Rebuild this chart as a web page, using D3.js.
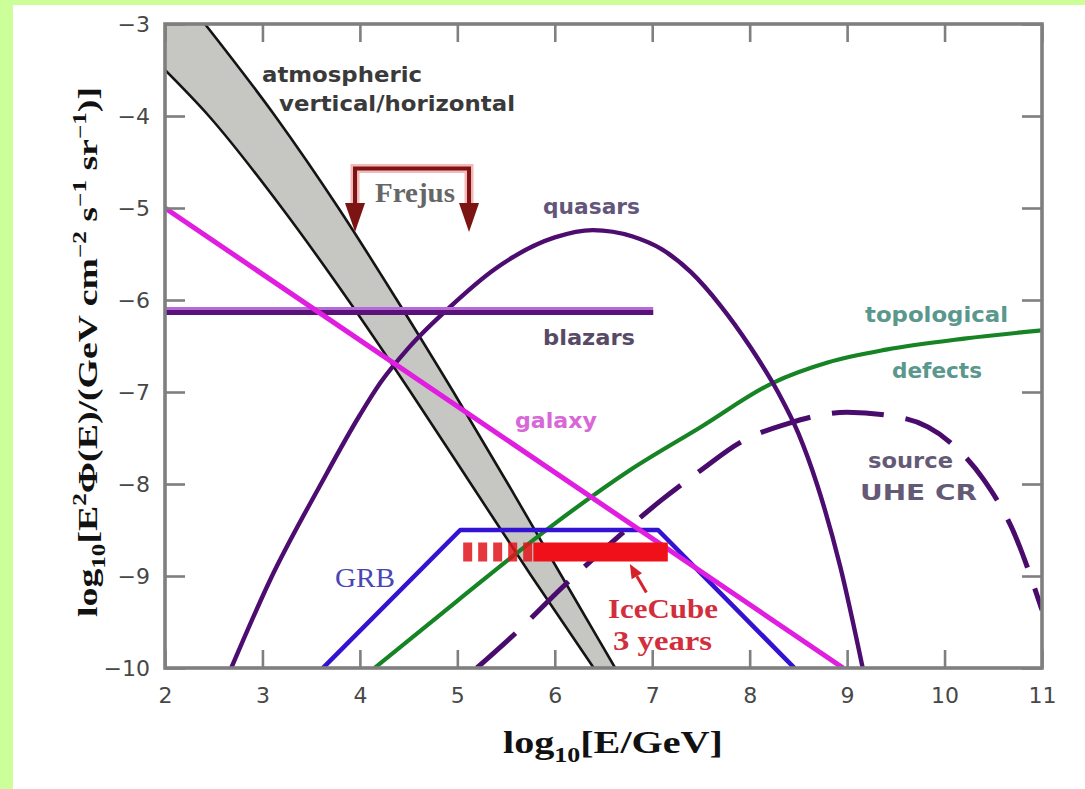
<!DOCTYPE html>
<html>
<head>
<meta charset="utf-8">
<script src="https://cdn.jsdelivr.net/npm/d3@7"></script>
<style>
  html, body { margin: 0; padding: 0; background: #fff; }
  svg { display: block; }
</style>
</head>
<body>
<svg id="chart" width="1085" height="789"></svg>
<script>
// ---- axis ticks ----
const energyTicks = [2, 3, 4, 5, 6, 7, 8, 9, 10, 11];
const fluxTicks = [-3, -4, -5, -6, -7, -8, -9, -10];

// ---- neutrino flux models: [log10(E/GeV), log10(E^2 Phi)] ----
const atmosphericUpper = [[2.41, -3], [3.13, -4], [3.78, -5], [4.38, -6], [4.96, -7], [5.52, -8], [6.07, -9], [6.62, -10]];
const atmosphericLower = [[2.0, -3.5], [2.45, -4], [3.2, -5], [3.88, -6], [4.52, -7], [5.14, -8], [5.76, -9], [6.4, -10]];

const quasars = [[2.68, -10], [3.08, -9.04], [3.6, -8.0], [4.0, -7.25], [4.21, -6.9], [4.5, -6.52], [4.92, -6.08],
  [5.39, -5.66], [6.0, -5.32], [6.39, -5.24], [6.8, -5.31], [7.1, -5.45], [7.4, -5.7], [7.7, -6.06], [8.0, -6.5],
  [8.29, -7.0], [8.5, -7.45], [8.69, -8.0], [8.93, -8.9], [9.16, -10]];

const blazarsRange = [2.0, 7.01];
const blazarsLevel = -6.12;

const galaxy = [[2.0, -5.0], [8.96, -10.0]];

const grb = [[3.62, -10], [5.03, -8.5], [7.06, -8.5], [8.46, -10]];

const topologicalDefects = [[4.15, -10], [5.0, -9.27], [6.0, -8.43], [6.77, -7.85], [7.5, -7.38], [8.24, -6.9],
  [8.8, -6.68], [9.4, -6.54], [10.2, -6.42], [11.0, -6.33]];

const sourceUHECR = [[5.2, -10], [5.6, -9.62], [6.1, -9.1], [6.6, -8.62], [7.1, -8.17], [7.5, -7.85], [7.9, -7.55],
  [8.4, -7.34], [9.0, -7.22], [9.6, -7.29], [10.06, -7.55], [10.4, -7.95], [10.7, -8.5], [11.0, -9.37]];

// Frejus upper limit bracket
const frejusRange = [3.95, 5.12];
const frejusLevel = -4.57;
const frejusArrowTo = -5.26;

// IceCube 3-year sensitivity
const icecubeLevel = -8.74;
const icecubeExtended = [5.06, 5.78];
const icecubeCore = [5.78, 7.16];

// ---- layout ----
const svg = d3.select("#chart");
const W = 1085, H = 789;
const plot = { left: 165, right: 1042, top: 24, bottom: 668 };

const x = d3.scaleLinear().domain([2, 11]).range([plot.left, plot.right]);
const y = d3.scaleLinear().domain([-3, -10]).range([plot.top, plot.bottom]);

// page background with the lime margin
svg.append("rect").attr("width", W).attr("height", H).attr("fill", "#ccfe9a");
svg.append("rect").attr("x", 13).attr("y", 5).attr("width", W - 13).attr("height", H - 5).attr("fill", "#ffffff");

svg.append("defs").append("clipPath").attr("id", "plotClip")
  .append("rect")
  .attr("x", plot.left).attr("y", plot.top)
  .attr("width", plot.right - plot.left).attr("height", plot.bottom - plot.top);

const g = svg.append("g").attr("clip-path", "url(#plotClip)");

const lineCurve = d3.line().x(d => x(d[0])).y(d => y(d[1])).curve(d3.curveMonotoneX);
const lineStraight = d3.line().x(d => x(d[0])).y(d => y(d[1]));

// atmospheric band
const upperPath = lineCurve(atmosphericUpper);
const lowerRevPath = lineCurve(atmosphericLower.slice().reverse()).replace(/^M/, "L");
g.append("path")
  .attr("d", upperPath + lowerRevPath + `L${x(2)},${y(-3)}Z`)
  .attr("fill", "#c6c6c2");
[atmosphericUpper, atmosphericLower].forEach(edge => {
  g.append("path").attr("d", lineCurve(edge))
    .attr("fill", "none").attr("stroke", "#141414").attr("stroke-width", 2.6);
});

// topological defects
g.append("path").attr("d", lineCurve(topologicalDefects))
  .attr("fill", "none").attr("stroke", "#168424").attr("stroke-width", 4.2);

// source UHE CR (dashed)
g.append("path").attr("d", lineCurve(sourceUHECR))
  .attr("fill", "none").attr("stroke", "#4a0c6c").attr("stroke-width", 5)
  .attr("stroke-dasharray", "52,22");

// GRB
g.append("path").attr("d", lineStraight(grb))
  .attr("fill", "none").attr("stroke", "#3412d2").attr("stroke-width", 4.6)
  .attr("stroke-linejoin", "round");

// quasars
g.append("path").attr("d", lineCurve(quasars))
  .attr("fill", "none").attr("stroke", "#4c0c70").attr("stroke-width", 4.4);

// blazars
const blz = blazarsRange.map(e => [e, blazarsLevel]);
g.append("path").attr("d", lineStraight(blz))
  .attr("fill", "none").attr("stroke", "#b46ad8").attr("stroke-width", 8);
g.append("path").attr("d", lineStraight(blz)).attr("transform", "translate(0,1.5)")
  .attr("fill", "none").attr("stroke", "#5a1278").attr("stroke-width", 5);

// galaxy
g.append("path").attr("d", lineStraight(galaxy))
  .attr("fill", "none").attr("stroke", "#e01ee0").attr("stroke-width", 5);

// IceCube sensitivity bar
g.append("path").attr("d", lineStraight(icecubeExtended.map(e => [e, icecubeLevel])))
  .attr("fill", "none").attr("stroke", "#e0141c").attr("stroke-width", 19)
  .attr("stroke-dasharray", "9,6").attr("opacity", 0.85);
g.append("path").attr("d", lineStraight(icecubeCore.map(e => [e, icecubeLevel])))
  .attr("fill", "none").attr("stroke", "#f0101a").attr("stroke-width", 19);

// IceCube pointer arrow
const arrowTail = [6.94, -9.18], arrowTip = [6.77, -8.87];
{
  const x0 = x(arrowTail[0]), y0 = y(arrowTail[1]), x1 = x(arrowTip[0]), y1 = y(arrowTip[1]);
  const ang = Math.atan2(y1 - y0, x1 - x0);
  const hl = 14, hw = 6;
  const bx = x1 - hl * Math.cos(ang), by = y1 - hl * Math.sin(ang);
  g.append("line").attr("x1", x0).attr("y1", y0).attr("x2", bx).attr("y2", by)
    .attr("stroke", "#d8202c").attr("stroke-width", 3);
  g.append("path")
    .attr("d", `M${x1},${y1}L${bx + hw * Math.sin(ang)},${by - hw * Math.cos(ang)}L${bx - hw * Math.sin(ang)},${by + hw * Math.cos(ang)}Z`)
    .attr("fill", "#d8202c");
}

// Frejus bracket with downward arrows
{
  const xl = x(frejusRange[0]), xr = x(frejusRange[1]);
  const yl = y(frejusLevel), yt = y(frejusArrowTo);
  const head = 29, hw = 10;
  const bracket = `M${xl},${yt - head}L${xl},${yl}L${xr},${yl}L${xr},${yt - head}`;
  g.append("path").attr("d", bracket).attr("fill", "none")
    .attr("stroke", "#f4b8b8").attr("stroke-width", 9).attr("stroke-linejoin", "miter");
  g.append("path").attr("d", bracket).attr("fill", "none")
    .attr("stroke", "#7c1414").attr("stroke-width", 4).attr("stroke-linejoin", "miter");
  [xl, xr].forEach(xx => {
    g.append("path")
      .attr("d", `M${xx - hw},${yt - head}L${xx + hw},${yt - head}L${xx},${yt}Z`)
      .attr("fill", "#7c1414");
  });
}

// ---- frame and axes ----
const axisColor = "#7f7f7f";
const tickFont = "'DejaVu Sans', sans-serif";

function styleAxis(sel) {
  sel.select(".domain").remove();
  sel.selectAll(".tick line").attr("stroke", axisColor).attr("stroke-width", 2.6);
  sel.selectAll(".tick text").attr("fill", "#474747")
    .style("font-family", tickFont).style("font-size", "22px");
}

svg.append("g").attr("transform", `translate(0,${plot.bottom})`)
  .call(d3.axisBottom(x).tickValues(energyTicks).tickSize(-18).tickPadding(19).tickFormat(d3.format("d")))
  .call(styleAxis);
svg.append("g").attr("transform", `translate(0,${plot.top})`)
  .call(d3.axisTop(x).tickValues(energyTicks).tickSize(-18).tickFormat(""))
  .call(styleAxis);
svg.append("g").attr("transform", `translate(${plot.left},0)`)
  .call(d3.axisLeft(y).tickValues(fluxTicks).tickSize(-20).tickPadding(15).tickFormat(d3.format("d")))
  .call(styleAxis);
svg.append("g").attr("transform", `translate(${plot.right},0)`)
  .call(d3.axisRight(y).tickValues(fluxTicks).tickSize(-20).tickFormat(""))
  .call(styleAxis);

svg.append("rect")
  .attr("x", plot.left).attr("y", plot.top)
  .attr("width", plot.right - plot.left).attr("height", plot.bottom - plot.top)
  .attr("fill", "none").attr("stroke", axisColor).attr("stroke-width", 3.6);

// ---- curve labels ----
const sans = "'DejaVu Sans', sans-serif";
const serif = "'Liberation Serif', 'DejaVu Serif', serif";
const labels = [
  { t: "atmospheric", x: 262, y: 82, len: 160, f: sans, s: 22, c: "#3a3a3a", w: "bold" },
  { t: "vertical/horizontal", x: 279, y: 111, len: 236, f: sans, s: 22, c: "#3a3a3a", w: "bold" },
  { t: "Frejus", x: 375, y: 202, len: 80, f: serif, s: 27, c: "#666666", w: "bold" },
  { t: "quasars", x: 543, y: 214, len: 97, f: sans, s: 21, c: "#64567a", w: "bold" },
  { t: "blazars", x: 543, y: 345, len: 92, f: sans, s: 21, c: "#574a66", w: "bold" },
  { t: "galaxy", x: 515, y: 428, len: 82, f: sans, s: 22, c: "#d868d8", w: "bold" },
  { t: "topological", x: 865, y: 322, len: 143, f: sans, s: 21, c: "#5a978c", w: "bold" },
  { t: "defects", x: 892, y: 378, len: 90, f: sans, s: 21, c: "#5a978c", w: "bold" },
  { t: "source", x: 868, y: 468, len: 85, f: sans, s: 21, c: "#655a76", w: "bold" },
  { t: "UHE CR", x: 860, y: 500, len: 117, f: sans, s: 22, c: "#655a76", w: "bold" },
  { t: "GRB", x: 335, y: 587, len: 60, f: serif, s: 27, c: "#4a46b6", w: "normal" },
  { t: "IceCube", x: 608, y: 618, len: 110, f: serif, s: 28, c: "#d22e3c", w: "bold" },
  { t: "3 years", x: 613, y: 650, len: 99, f: serif, s: 28, c: "#d22e3c", w: "bold" }
];
svg.append("g").selectAll("text").data(labels).join("text")
  .attr("x", d => d.x).attr("y", d => d.y)
  .attr("textLength", d => d.len).attr("lengthAdjust", "spacingAndGlyphs")
  .attr("fill", d => d.c)
  .style("font-family", d => d.f).style("font-size", d => d.s + "px").style("font-weight", d => d.w)
  .text(d => d.t);

// ---- axis titles ----
const titleFont = "'Liberation Serif', 'DejaVu Serif', serif";

const xt = svg.append("text")
  .attr("x", 503).attr("y", 753)
  .attr("textLength", 220).attr("lengthAdjust", "spacingAndGlyphs")
  .style("font-family", titleFont).style("font-size", "31px").style("font-weight", "bold")
  .attr("fill", "#111");
xt.append("tspan").text("log");
xt.append("tspan").attr("dy", 9).style("font-size", "20px").text("10");
xt.append("tspan").attr("dy", -9).text("[E/GeV]");

const yt = svg.append("text")
  .attr("transform", "translate(97,352) rotate(-90)")
  .attr("text-anchor", "middle")
  .attr("textLength", 530).attr("lengthAdjust", "spacingAndGlyphs")
  .style("font-family", titleFont).style("font-size", "27px").style("font-weight", "bold")
  .attr("fill", "#111");
const yParts = [
  ["log", 0, 27], ["10", 8, 18], ["[E", -8, 27], ["2", -11, 18], ["Φ(E)/(GeV cm", 11, 27],
  ["−2", -11, 18], [" s", 11, 27], ["−1", -11, 18], [" sr", 11, 27], ["−1", -11, 18], [")]", 11, 27]
];
yParts.forEach(([t, dy, fs]) => {
  yt.append("tspan").attr("dy", dy).style("font-size", fs + "px").text(t);
});
</script>
</body>
</html>
